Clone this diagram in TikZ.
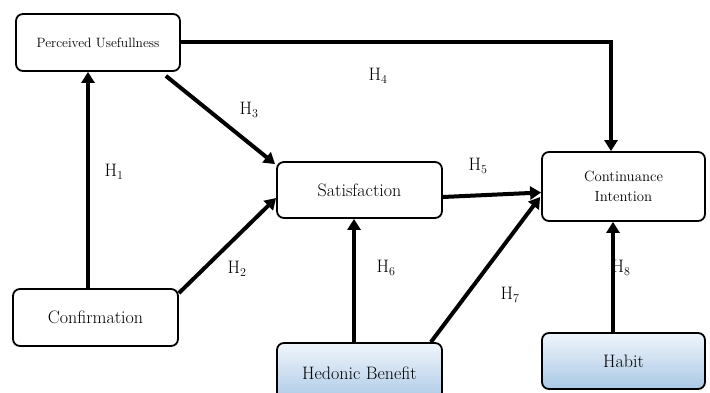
\documentclass[tikz,border=0pt]{standalone}
\usepackage{fontspec}
\usetikzlibrary{arrows.meta, positioning}
\definecolor{hbtop}{HTML}{F0F5FB}
\definecolor{hbbot}{HTML}{A9C8E6}
\tikzset{
  every picture/.style={line width=1.2pt},
  box/.style={draw=black, fill=white, rounded corners=7pt, align=center, line width=1.8pt, inner sep=2pt, font=\fontsize{18}{21}\selectfont},
  shadebox/.style={box, top color=hbtop, bottom color=hbbot},
  arrow/.style={-{Triangle[length=11pt, width=13pt]}, line width=4pt},
  hlabel/.style={font=\fontsize{18}{20}\selectfont},
}
\newcommand{\hyp}[1]{H$_{#1}$}

\begin{document}
\begin{tikzpicture}[x=1pt, y=-1pt]
  \useasboundingbox (0,0) rectangle (710,393);
  % constructs
  \node[box, minimum width=164pt, minimum height=57pt, font=\fontsize{13.5}{15}\selectfont] (pu) at (98,42.5) {Perceived Usefullness};
  \node[box, minimum width=165pt, minimum height=56pt] (sat) at (359.5,190) {Satisfaction};
  \node[box, minimum width=163pt, minimum height=69pt, font=\fontsize{14.8}{20}\selectfont] (ci) at (623.5,186.5) {Continuance\\Intention};
  \node[box, minimum width=165pt, minimum height=57pt] (conf) at (95.5,317.5) {Confirmation};
  \node[shadebox, minimum width=165pt, minimum height=60pt] (hed) at (359.5,373) {Hedonic Benefit};
  \node[shadebox, minimum width=163pt, minimum height=56pt] (hab) at (623.5,361) {Habit};
  % paths
  \draw[arrow] ([xshift=-7.5pt]conf.north) -- ([xshift=-7.5pt]conf.north |- pu.south);
  \draw[arrow] ([yshift=-5pt]conf.north east) -- ([yshift=-8pt]sat.west);
  \draw[arrow] ([xshift=-15pt, yshift=-4pt]pu.south east) -- ([xshift=-1pt, yshift=-3pt]sat.north west);
  \draw[arrow] (pu.east) -| ([xshift=-12.5pt]ci.north);
  \draw[arrow] ([yshift=-7pt]sat.east) -- ([yshift=-6pt]ci.west);
  \draw[arrow] ([xshift=-5.5pt]hed.north) -- ([xshift=-5.5pt]hed.north |- sat.south);
  \draw[arrow] ([xshift=-12pt]hed.north east) -- ([xshift=-1pt, yshift=-10.5pt]ci.west);
  \draw[arrow] ([xshift=-10.5pt]hab.north) -- ([xshift=-10.5pt]hab.north |- ci.south);
  % hypothesis labels
  \node[hlabel] (h1) at (114,172) {\hyp{1}};
  \node[hlabel] (h2) at (237,269) {\hyp{2}};
  \node[hlabel] (h3) at (249,110) {\hyp{3}};
  \node[hlabel] (h4) at (378,76) {\hyp{4}};
  \node[hlabel] (h5) at (478,166) {\hyp{5}};
  \node[hlabel] (h6) at (386,268) {\hyp{6}};
  \node[hlabel] (h7) at (510,295) {\hyp{7}};
  \node[hlabel] (h8) at (621,268) {\hyp{8}};
\end{tikzpicture}
\end{document}
